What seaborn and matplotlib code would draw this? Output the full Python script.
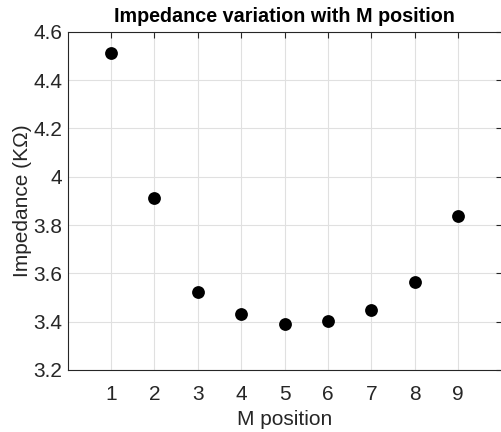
import numpy as np
import pandas as pd
import matplotlib
matplotlib.use('Agg')
import matplotlib.pyplot as plt
import seaborn as sns

# datos
m_position = [1, 2, 3, 4, 5, 6, 7, 8, 9]
impedance = [4.514, 3.913, 3.523, 3.431, 3.389, 3.403, 3.447, 3.562, 3.836]

df = pd.DataFrame({'M position': m_position, 'Impedance': impedance})

sns.set_theme(style='white')
plt.rcParams['font.family'] = ['Liberation Sans', 'DejaVu Sans']

fig = plt.figure(figsize=(5.01, 4.32), dpi=100)
ax = fig.add_axes([0.135, 0.144, 0.866, 0.782])

sns.scatterplot(data=df, x='M position', y='Impedance', ax=ax,
                color='black', s=85, edgecolor='black', linewidth=0, zorder=3)

ax.set_xlim(0, 10)
ax.set_ylim(3.2, 4.6)
ax.set_xticks(m_position)
ax.set_yticks(np.round(np.arange(3.2, 4.61, 0.2), 1))
ax.set_yticklabels(['3.2', '3.4', '3.6', '3.8', '4', '4.2', '4.4', '4.6'])

ax.grid(True, color='#e0e0e0', linewidth=0.8)
ax.set_axisbelow(True)
ax.tick_params(direction='in', top=True, right=True, length=4, width=0.8,
               labelsize=15, colors='#262626')
ax.tick_params(axis='x', pad=11)
ax.tick_params(axis='y', pad=4)
for sp in ax.spines.values():
    sp.set_color('#262626')
    sp.set_linewidth(0.8)

ax.set_xlabel('M position', fontsize=15, color='#262626', labelpad=4)
ax.set_ylabel('Impedance (K\u03a9)', fontsize=15, color='#262626', labelpad=1)
ax.set_title('Impedance variation with M position', fontsize=14.2,
             fontweight='bold', color='black', pad=7)

fig.savefig('out.png', dpi=100)
